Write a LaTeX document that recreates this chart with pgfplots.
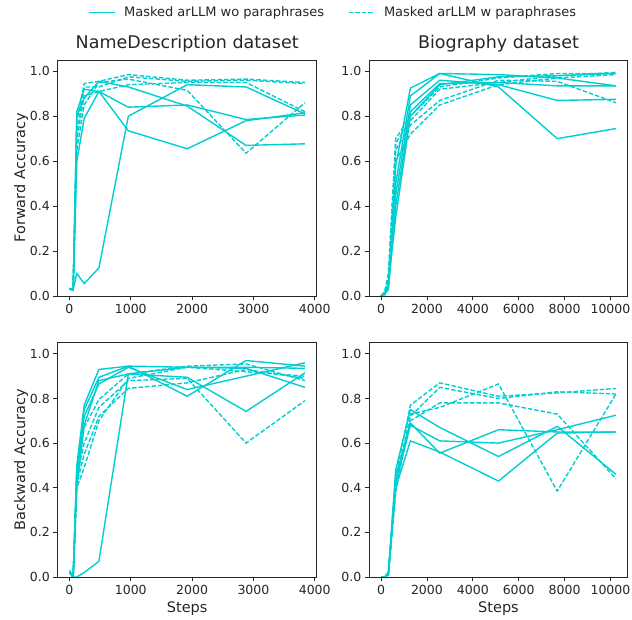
\documentclass[border=0pt]{standalone}
\usepackage{pgfplots}
\pgfplotsset{compat=1.18}
\usepackage{fontspec}
\setmainfont{DejaVu Sans}
\definecolor{lc}{RGB}{0,206,209}
\definecolor{spine}{RGB}{38,38,38}
\pgfplotsset{
  myax/.style={
    scale only axis, anchor=south west,
    ymin=0, ymax=1.05,
    ytick={0,0.2,0.4,0.6,0.8,1.0},
    yticklabel style={/pgf/number format/.cd, fixed, fixed zerofill, precision=1},
    /pgf/number format/assume math mode=true,
    tick align=outside, xtick pos=lower, ytick pos=left,
    major tick length=4.4pt,
    tick style={spine, line width=0.8pt},
    axis line style={spine, line width=0.8pt},
    ticklabel style={font=\fontsize{12.5}{15}\selectfont, text=spine},
    xlabel style={font=\fontsize{14.5}{17}\selectfont, text=spine},
    every axis y label/.style={at={(rel axis cs:0,0.5)}, shift={(-36.5pt,0pt)}, rotate=90, anchor=center,
      font=\fontsize{14.5}{17}\selectfont, text=spine},
    title style={at={(0.5,1)}, anchor=base, yshift=5.5pt, font=\fontsize{17.5}{21}\selectfont, text=spine},
    scaled x ticks=false,
    x tick label style={/pgf/number format/1000 sep={}},
  },
  ndx/.style={xmin=-192, xmax=4032, xtick={0,1000,2000,3000,4000}, width=259pt},
  bio/.style={xmin=-512, xmax=10752, xtick={0,2000,4000,6000,8000,10000}, width=258.4pt},
  sol/.style={lc, line width=1.4pt, solid},
  das/.style={lc, line width=1.4pt, dash pattern=on 4.5pt off 2pt},
}
\begin{document}
\begin{tikzpicture}
\useasboundingbox (0pt,0pt) rectangle (632pt,620pt);
% ---------------- top-left
\begin{axis}[myax, ndx, at={(57.7pt,324pt)}, height=236pt,
  title={NameDescription dataset}, ylabel={Forward Accuracy},
  legend columns=2,
  legend style={at={(1.0639,1.2013)}, anchor=center, draw=none, fill=none,
    font=\fontsize{13}{15.5}\selectfont, text=spine,
    nodes={inner sep=2pt},
    /tikz/every even column/.append style={column sep=22pt}},
  legend image code/.code={\draw[#1] (0pt,0pt) -- (26pt,0pt); \path (32.4pt,0pt);},
  legend cell align=left]
\addplot[sol] coordinates {(0,0.035)(60,0.03)(120,0.10)(240,0.055)(480,0.125)(960,0.80)(1920,0.94)(2880,0.93)(3840,0.81)};
\addlegendentry{Masked arLLM wo paraphrases}
\addplot[das] coordinates {(0,0.03)(60,0.03)(120,0.78)(240,0.945)(480,0.955)(960,0.985)(1920,0.96)(2880,0.965)(3840,0.95)};
\addlegendentry{Masked arLLM w paraphrases}
\addplot[sol, forget plot] coordinates {(0,0.03)(60,0.025)(120,0.82)(240,0.92)(480,0.91)(960,0.84)(1920,0.85)(2880,0.785)(3840,0.805)};
\addplot[sol, forget plot] coordinates {(0,0.03)(60,0.03)(120,0.60)(240,0.79)(480,0.91)(960,0.735)(1920,0.655)(2880,0.78)(3840,0.815)};
\addplot[sol, forget plot] coordinates {(0,0.03)(60,0.03)(120,0.80)(240,0.88)(480,0.955)(960,0.93)(1920,0.845)(2880,0.67)(3840,0.677)};
\addplot[das, forget plot] coordinates {(0,0.03)(60,0.03)(120,0.72)(240,0.93)(480,0.93)(960,0.975)(1920,0.955)(2880,0.96)(3840,0.945)};
\addplot[das, forget plot] coordinates {(0,0.03)(60,0.03)(120,0.65)(240,0.85)(480,0.95)(960,0.965)(1920,0.915)(2880,0.635)(3840,0.86)};
\addplot[das, forget plot] coordinates {(0,0.03)(60,0.03)(120,0.70)(240,0.89)(480,0.91)(960,0.94)(1920,0.95)(2880,0.95)(3840,0.82)};
\end{axis}
% ---------------- top-right
\begin{axis}[myax, bio, at={(369.3pt,324pt)}, height=236pt,
  title={Biography dataset}]
\addplot[sol] coordinates {(0,0)(160,0.01)(320,0.03)(640,0.58)(1280,0.925)(2560,0.99)(5120,0.985)(7680,0.97)(10240,0.935)};
\addplot[sol] coordinates {(0,0)(160,0.005)(320,0.04)(640,0.50)(1280,0.89)(2560,0.99)(5120,0.93)(7680,0.70)(10240,0.745)};
\addplot[sol] coordinates {(0,0)(160,0.01)(320,0.05)(640,0.45)(1280,0.85)(2560,0.96)(5120,0.94)(7680,0.87)(10240,0.875)};
\addplot[sol] coordinates {(0,0)(160,0.01)(320,0.03)(640,0.40)(1280,0.82)(2560,0.945)(5120,0.95)(7680,0.935)(10240,0.935)};
\addplot[sol] coordinates {(0,0)(160,0.01)(320,0.06)(640,0.35)(1280,0.80)(2560,0.94)(5120,0.975)(7680,0.98)(10240,0.99)};
\addplot[das] coordinates {(0,0)(160,0.02)(320,0.10)(640,0.70)(1280,0.80)(2560,0.93)(5120,0.97)(7680,0.99)(10240,0.99)};
\addplot[das] coordinates {(0,0)(160,0.02)(320,0.08)(640,0.68)(1280,0.78)(2560,0.92)(5120,0.95)(7680,0.98)(10240,0.995)};
\addplot[das] coordinates {(0,0)(160,0.01)(320,0.06)(640,0.65)(1280,0.76)(2560,0.87)(5120,0.96)(7680,0.955)(10240,0.86)};
\addplot[das] coordinates {(0,0)(160,0.01)(320,0.05)(640,0.60)(1280,0.72)(2560,0.85)(5120,0.94)(7680,0.97)(10240,0.985)};
\end{axis}
% ---------------- bottom-left
\begin{axis}[myax, ndx, at={(57.7pt,43pt)}, height=234.3pt,
  xlabel={Steps}, ylabel={Backward Accuracy}]
\addplot[sol] coordinates {(0,0.03)(60,0.0)(120,0.0)(240,0.02)(480,0.07)(960,0.91)(1920,0.895)(2880,0.742)(3840,0.915)};
\addplot[sol] coordinates {(0,0.02)(60,0.0)(120,0.50)(240,0.77)(480,0.93)(960,0.945)(1920,0.94)(2880,0.94)(3840,0.935)};
\addplot[sol] coordinates {(0,0.02)(60,0.0)(120,0.48)(240,0.75)(480,0.895)(960,0.945)(1920,0.81)(2880,0.97)(3840,0.945)};
\addplot[sol] coordinates {(0,0.02)(60,0.0)(120,0.45)(240,0.72)(480,0.865)(960,0.94)(1920,0.84)(2880,0.90)(3840,0.96)};
\addplot[sol] coordinates {(0,0.02)(60,0.0)(120,0.40)(240,0.68)(480,0.88)(960,0.91)(1920,0.94)(2880,0.935)(3840,0.85)};
\addplot[das] coordinates {(0,0.02)(60,0.0)(120,0.48)(240,0.67)(480,0.795)(960,0.91)(1920,0.945)(2880,0.955)(3840,0.88)};
\addplot[das] coordinates {(0,0.02)(60,0.0)(120,0.45)(240,0.60)(480,0.76)(960,0.88)(1920,0.89)(2880,0.60)(3840,0.79)};
\addplot[das] coordinates {(0,0.02)(60,0.0)(120,0.42)(240,0.55)(480,0.72)(960,0.845)(1920,0.87)(2880,0.93)(3840,0.89)};
\addplot[das] coordinates {(0,0.02)(60,0.0)(120,0.40)(240,0.49)(480,0.70)(960,0.89)(1920,0.94)(2880,0.92)(3840,0.90)};
\end{axis}
% ---------------- bottom-right
\begin{axis}[myax, bio, at={(369.3pt,43pt)}, height=234.3pt,
  xlabel={Steps}]
\addplot[sol] coordinates {(0,0)(160,0)(320,0.02)(640,0.48)(1280,0.75)(2560,0.67)(5120,0.54)(7680,0.675)(10240,0.46)};
\addplot[sol] coordinates {(0,0)(160,0)(320,0.01)(640,0.45)(1280,0.69)(2560,0.555)(5120,0.66)(7680,0.65)(10240,0.65)};
\addplot[sol] coordinates {(0,0)(160,0)(320,0.02)(640,0.42)(1280,0.68)(2560,0.61)(5120,0.60)(7680,0.66)(10240,0.725)};
\addplot[sol] coordinates {(0,0)(160,0)(320,0.01)(640,0.40)(1280,0.61)(2560,0.56)(5120,0.43)(7680,0.645)(10240,0.65)};
\addplot[das] coordinates {(0,0)(160,0)(320,0.02)(640,0.45)(1280,0.77)(2560,0.87)(5120,0.81)(7680,0.825)(10240,0.845)};
\addplot[das] coordinates {(0,0)(160,0)(320,0.01)(640,0.42)(1280,0.72)(2560,0.85)(5120,0.80)(7680,0.83)(10240,0.82)};
\addplot[das] coordinates {(0,0)(160,0)(320,0.02)(640,0.40)(1280,0.70)(2560,0.78)(5120,0.78)(7680,0.73)(10240,0.44)};
\addplot[das] coordinates {(0,0)(160,0)(320,0.01)(640,0.38)(1280,0.73)(2560,0.76)(5120,0.865)(7680,0.385)(10240,0.82)};
\end{axis}
\end{tikzpicture}
\end{document}
